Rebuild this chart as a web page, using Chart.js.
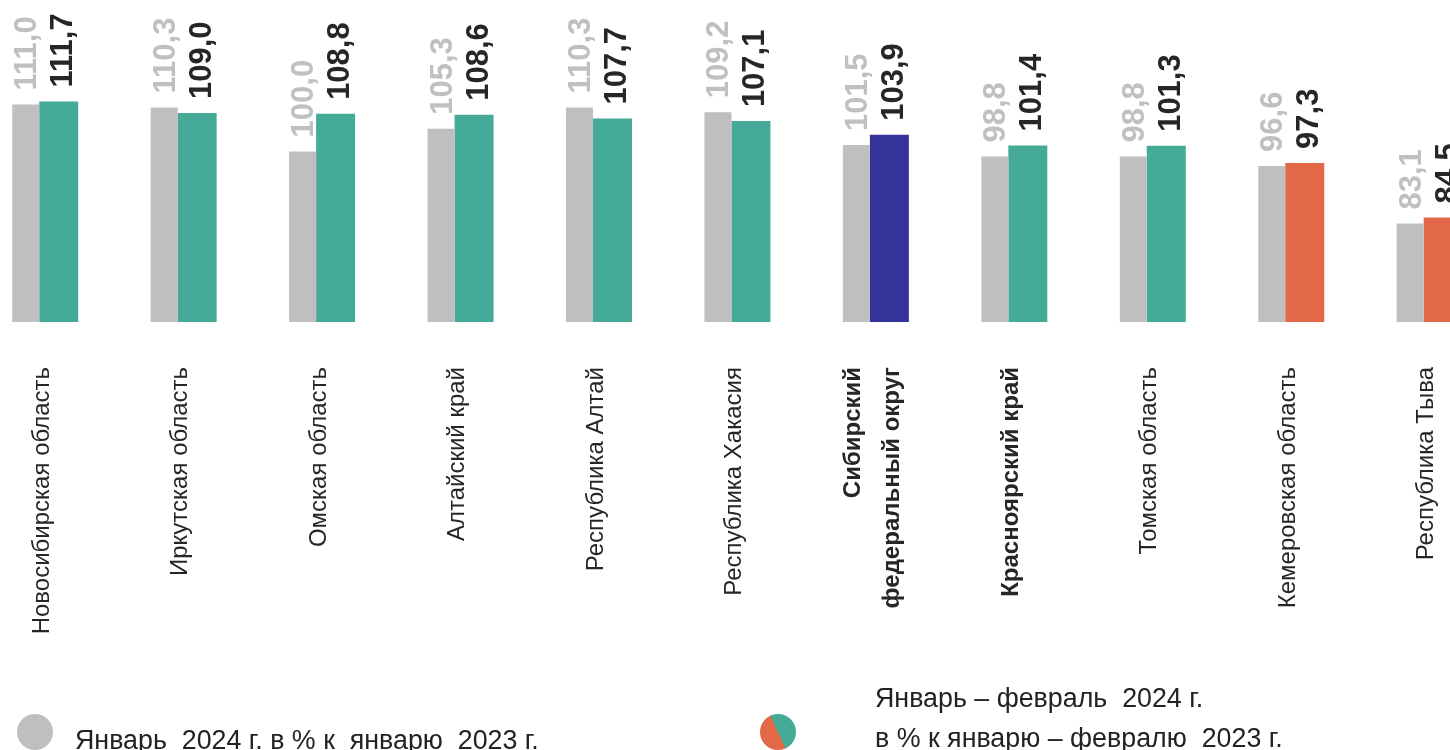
<!DOCTYPE html>
<html lang="ru">
<head>
<meta charset="utf-8">
<script src="https://cdn.jsdelivr.net/npm/chart.js@4"></script>
<style>
    html, body {
        margin: 0;
        padding: 0;
        width: 1450px;
        height: 750px;
        overflow: hidden;
        background: #ffffff;
        font-family: "Liberation Sans", Arial, sans-serif;
    }
    #grafico_wrap {
        position: absolute;
        left: -27px;
        top: 0;
        width: 1539px;
        height: 750px;
    }
    .legenda_texto {
        position: absolute;
        font-size: 26.8px;
        line-height: 40px;
        color: #222222;
        white-space: pre;
    }
    .bolinha {
        position: absolute;
        width: 36px;
        height: 36px;
        border-radius: 50%;
    }
</style>
</head>
<body>

<div id="grafico_wrap"><canvas id="chart_regioes"></canvas></div>

<div class="bolinha" style="left: 17px; top: 714px; background: #bfbfbf;"></div>
<div class="legenda_texto" style="left: 75px; top: 720px;">Январь  2024 г. в % к  январю  2023 г.</div>

<div class="bolinha" style="left: 760px; top: 714px; background: conic-gradient(from -25deg, #45ab98 0deg 180deg, #e36847 180deg 360deg);"></div>
<div class="legenda_texto" style="left: 875px; top: 678px;">Январь – февраль  2024 г.
в % к январю – февралю  2023 г.</div>

<script>
// DADOS
const regioes = [
    'Новосибирская область',
    'Иркутская область',
    'Омская область',
    'Алтайский край',
    'Республика Алтай',
    'Республика Хакасия',
    ['Сибирский', 'федеральный округ'],
    'Красноярский край',
    'Томская область',
    'Кемеровская область',
    'Республика Тыва'
];

const janeiro = [111.0, 110.3, 100.0, 105.3, 110.3, 109.2, 101.5, 98.8, 98.8, 96.6, 83.1];
const janeiro_fevereiro = [111.7, 109.0, 108.8, 108.6, 107.7, 107.1, 103.9, 101.4, 101.3, 97.3, 84.5];

// cores de cada barra da segunda serie
const cores_barras = ['#45ab98', '#45ab98', '#45ab98', '#45ab98', '#45ab98', '#45ab98',
    '#333399', '#45ab98', '#45ab98', '#e36847', '#e36847'];
const rotulos_negrito = [6, 7];
const rotulo_duas_linhas = 6;

const fonte = '"Liberation Sans", Arial, sans-serif';

// rotulos dos valores em cima das barras
const rotuloValores = {
    id: 'rotuloValores',
    afterDatasetsDraw(chart) {
        const ctx = chart.ctx;
        chart.data.datasets.forEach((ds, i) => {
            const meta = chart.getDatasetMeta(i);
            meta.data.forEach((bar, j) => {
                const texto = ds.data[j].toFixed(1).replace('.', ',');
                const recuo = i == 0 ? 3 : 6;
                ctx.save();
                ctx.translate(bar.x + bar.width / 2 - recuo, bar.y - 14);
                ctx.rotate(-Math.PI / 2);
                ctx.font = 'bold 31px ' + fonte;
                ctx.fillStyle = i == 0 ? '#c0c0c0' : '#262626';
                ctx.textAlign = 'left';
                ctx.textBaseline = 'alphabetic';
                ctx.fillText(texto, 0, 0);
                ctx.restore();
            });
        });
    }
};

// o eixo x2 tem altura 0, entao estica a area dele ate o fim do canvas
// para o rotulo de duas linhas nao ser cortado
const areaEixoExtra = {
    id: 'areaEixoExtra',
    afterLayout(chart) {
        chart.scales.x2.bottom = chart.height;
    }
};

function fonteTick(c) {
    return {
        family: fonte,
        size: 24,
        weight: rotulos_negrito.includes(c.index) ? 'bold' : 'normal',
        lineHeight: 1.65
    };
}

const ctxRegioes = document.getElementById('chart_regioes');

new Chart(ctxRegioes, {
    type: 'bar',
    data: {
        labels: regioes,
        datasets: [{
            label: 'Январь 2024 г. в % к январю 2023 г.',
            data: janeiro,
            backgroundColor: '#bfbfbf',
            categoryPercentage: 66 / 138.5,
            barPercentage: 27 / 33
        }, {
            label: 'Январь – февраль 2024 г. в % к январю – февралю 2023 г.',
            data: janeiro_fevereiro,
            backgroundColor: cores_barras,
            categoryPercentage: 66 / 138.5,
            barPercentage: 39 / 33
        }]
    },
    options: {
        responsive: true,
        maintainAspectRatio: false,
        animation: false,
        layout: { padding: 0 },
        scales: {
            y: {
                display: false,
                min: 60,
                max: 135.5
            },
            x: {
                weight: 1,
                grid: { display: false, drawTicks: false },
                border: { display: false },
                ticks: {
                    minRotation: 90,
                    maxRotation: 90,
                    autoSkip: false,
                    padding: 45,
                    color: '#262626',
                    font: fonteTick,
                    callback: function (valor, idx) {
                        return idx == rotulo_duas_linhas ? '' : this.getLabelForValue(valor);
                    }
                },
                afterFit(scale) {
                    scale.height = 428;
                }
            },
            // eixo so para o rotulo de duas linhas, centralizado na categoria
            x2: {
                type: 'category',
                position: 'bottom',
                weight: 0,
                grid: { display: false, drawTicks: false },
                border: { display: false },
                ticks: {
                    minRotation: 90,
                    maxRotation: 90,
                    autoSkip: false,
                    padding: 45,
                    labelOffset: -20,
                    color: '#262626',
                    font: fonteTick,
                    callback: function (valor, idx) {
                        return idx == rotulo_duas_linhas ? this.getLabelForValue(valor) : '';
                    }
                },
                afterFit(scale) {
                    scale.height = 0;
                }
            }
        },
        plugins: {
            legend: { display: false },
            tooltip: { enabled: false }
        }
    },
    plugins: [rotuloValores, areaEixoExtra]
});
</script>
</body>
</html>
